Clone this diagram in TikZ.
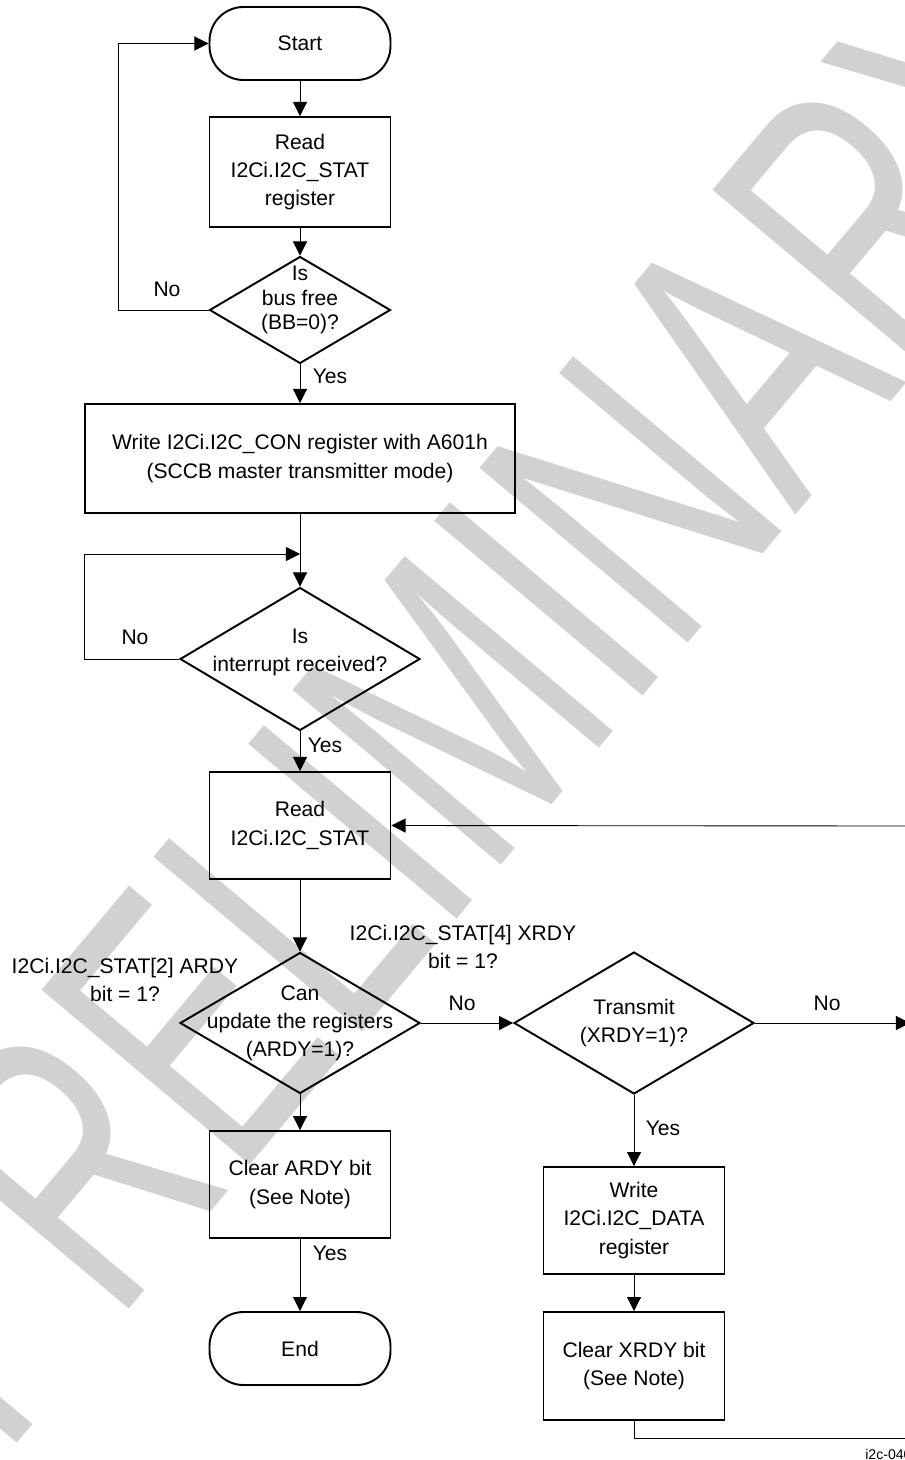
\documentclass[tikz,border=0pt]{standalone}
\usepackage{fontspec}
\usepackage{graphicx}
\setmainfont{Liberation Sans}
\usetikzlibrary{arrows.meta,shapes.geometric}
\definecolor{WmarkClr}{gray}{0.82}

\tikzset{
  procbox/.style={draw,line width=1.1pt,rectangle,minimum width=3.62cm,minimum height=2.14cm,align=center,inner sep=2pt},
  terminal/.style={draw,line width=1.1pt,rectangle,rounded corners=0.68cm,minimum width=3.62cm,minimum height=1.46cm},
  decision/.style={draw,line width=1.1pt,diamond,inner sep=-30pt,align=center,minimum width=4.8cm,minimum height=2.84cm},
  dtext/.style={inner sep=0pt,align=center},
  flow/.style={line width=0.5pt,-{Triangle[length=8pt,width=8pt]}},
  lbl/.style={inner sep=0pt},
}

\begin{document}
\begin{tikzpicture}[x=0.02cm,y=-0.02cm,every node/.append style={font=\fontsize{12}{16}\selectfont}]
\useasboundingbox (0,0) rectangle (904,1460);

% watermark
\node[rotate=50,inner sep=0pt,text=WmarkClr,font=\fontsize{225}{225}\selectfont] (wmark) at (466,696) {\scalebox{0.66}[1]{PRELIMINARY}};

% left column
\node[terminal] (start) at (300,43.5) {Start};
\node[procbox,minimum height=2.2cm] (rdstat) at (300,172) {Read\\I2Ci.I2C\_STAT\\register};
\node[decision,minimum width=3.62cm,minimum height=2.14cm,
  label={[dtext,yshift=0.2cm,font=\fontsize{12}{14}\selectfont]center:{Is\\bus free\\(BB=0)?}}] (busfree) at (300,310) {};
\node[procbox,minimum width=8.62cm,minimum height=2.18cm] (wrcon) at (300,458.5) {Write I2Ci.I2C\_CON register with A601h\\(SCCB master transmitter mode)};
\coordinate (irqjoin) at (300,554);
\node[decision,minimum height=2.86cm,
  label={[dtext,yshift=0.14cm]center:{Is\\interrupt received?}}] (irq) at (300,659) {};
\node[procbox] (rdstat2) at (300,825.5) {Read\\I2Ci.I2C\_STAT};
\node[decision,minimum height=2.82cm] (ardy) at (300,1023) {Can\\update the registers\\(ARDY=1)?};
\node[procbox] (clrardy) at (300,1184.5) {Clear ARDY bit\\(See Note)};
\node[terminal] (end) at (300,1348.5) {End};

% right column
\node[decision] (xrdy) at (634,1023) {Transmit\\(XRDY=1)?};
\node[procbox] (wrdata) at (634,1220.5) {Write\\I2Ci.I2C\_DATA\\register};
\node[procbox,minimum height=2.16cm] (clrxrdy) at (634,1366) {Clear XRDY bit\\(See Note)};
\coordinate (retin) at (910,1023);
\coordinate (retup) at (910,826);

% connectors
\draw[flow] (start) -- (rdstat);
\draw[flow] (rdstat) -- (busfree);
\draw[flow] (busfree.west) -- ++(-90,0) |- (start.west);
\draw[flow] (busfree) -- (wrcon);
\draw[flow] (wrcon) -- (irq);
\draw[flow] (irq.west) -| (84,554) -- (irqjoin);
\draw[flow] (irq) -- (rdstat2);
\draw[flow] (rdstat2) -- (ardy);
\draw[flow] (ardy) -- (clrardy);
\draw[flow] (clrardy) -- (end);
\draw[flow] (ardy) -- (xrdy);
\draw[flow] (xrdy) -- (retin);
\draw[flow] (xrdy) -- (wrdata);
\draw[flow] (wrdata) -- (clrxrdy);
\draw[line width=0.5pt] (clrxrdy.south) |- (910,1438);
\draw[flow] (retup) -- (rdstat2.east);

% labels
\node[lbl] (no1) at (167,289) {No};
\node[lbl] (yes1) at (330,376) {Yes};
\node[lbl] (no2) at (135,637) {No};
\node[lbl] (yes2) at (325,745) {Yes};
\node[lbl,align=center] (ardybit) at (125,980) {I2Ci.I2C\_STAT[2] ARDY\\bit = 1?};
\node[lbl,align=center] (xrdybit) at (463,947) {I2Ci.I2C\_STAT[4] XRDY\\bit = 1?};
\node[lbl] (no3) at (462,1003) {No};
\node[lbl] (no4) at (827,1003) {No};
\node[lbl] (yes3) at (663,1128) {Yes};
\node[lbl] (yes4) at (330,1253) {Yes};
\node[anchor=west,inner sep=0pt,font=\fontsize{8}{9}\selectfont] (figid) at (865,1454) {i2c-040};

\end{tikzpicture}
\end{document}
